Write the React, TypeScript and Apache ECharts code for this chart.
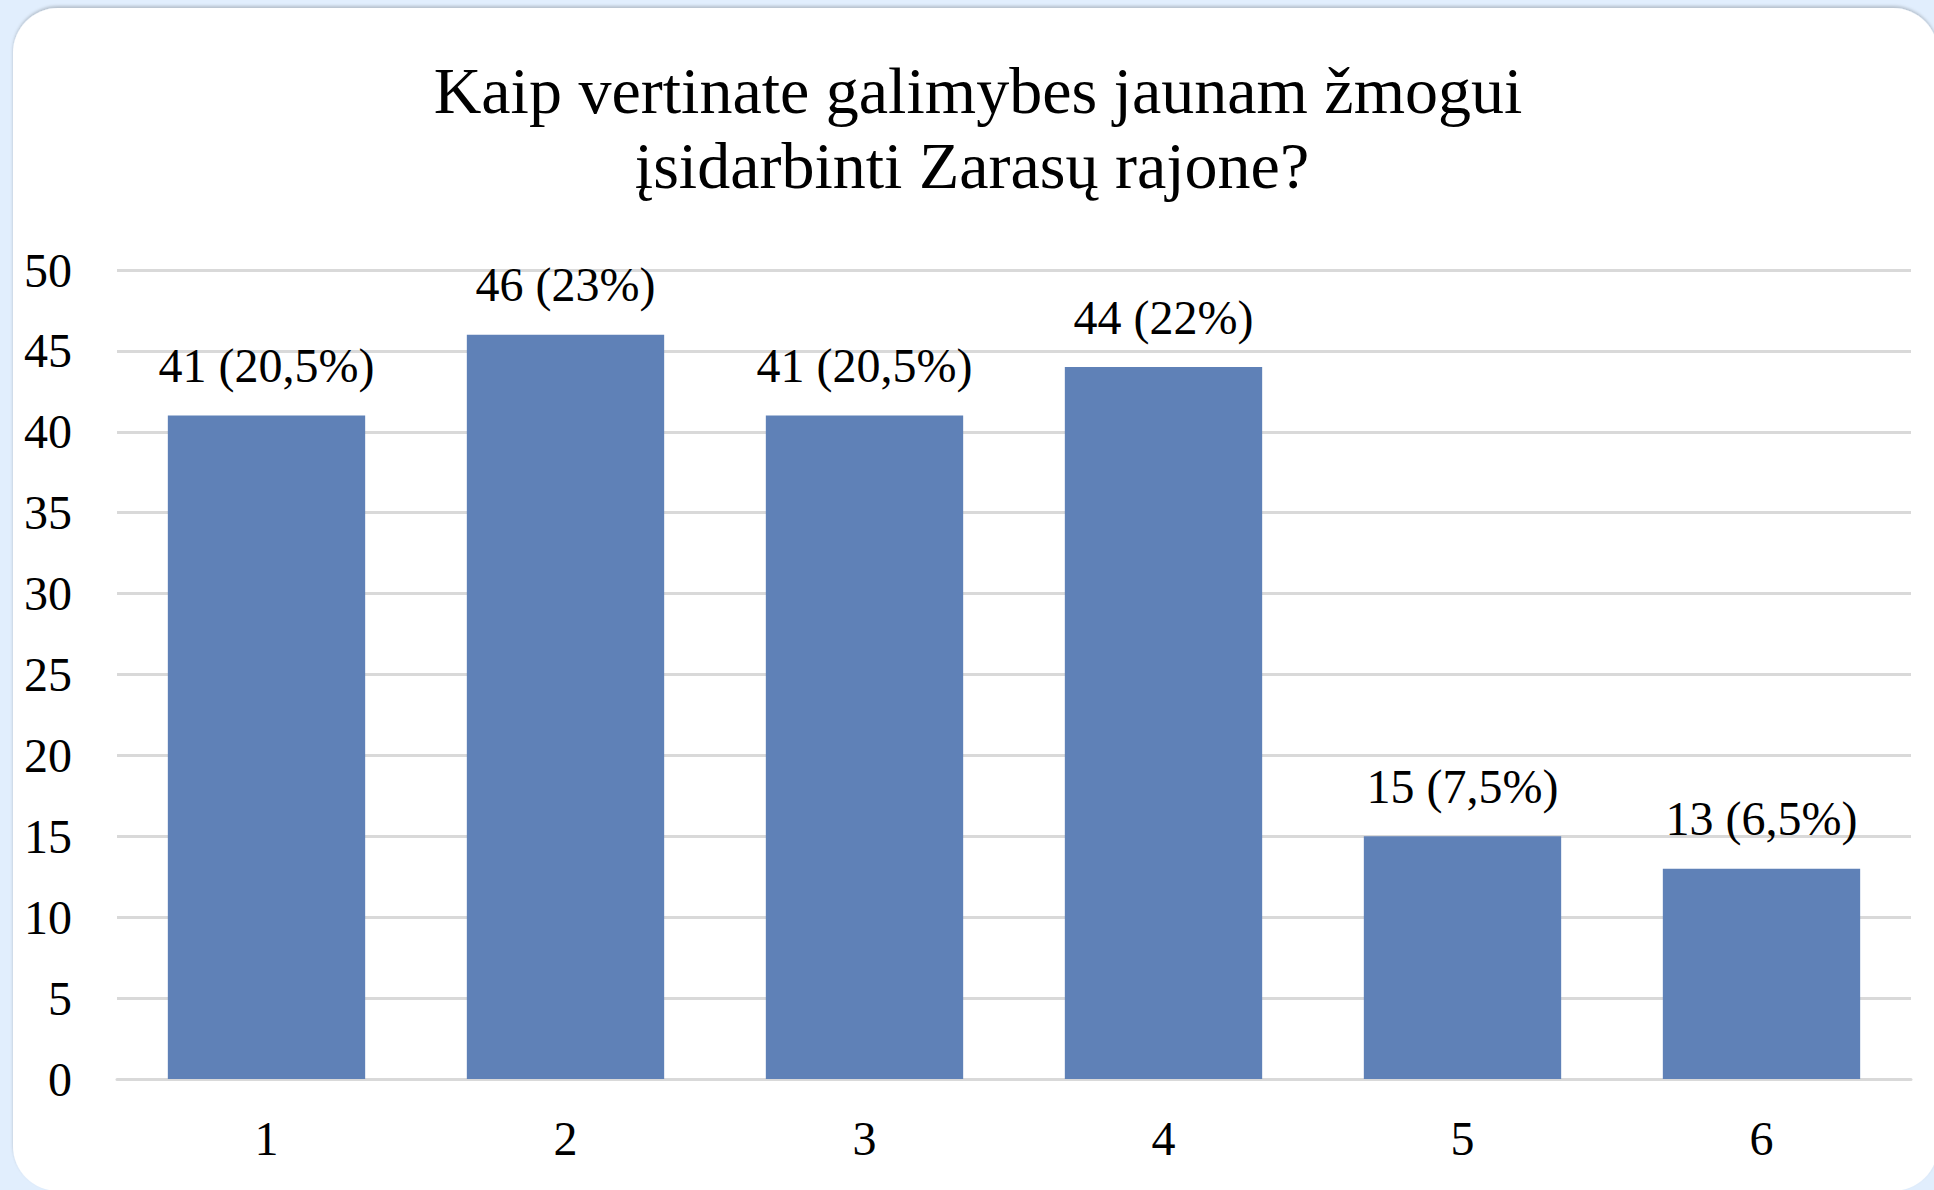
import React, { useEffect, useRef } from "react";
import * as echarts from "echarts";

const titleLines = ["Kaip vertinate galimybes jaunam žmogui", "įsidarbinti Zarasų rajone?"];
const categories = ["1", "2", "3", "4", "5", "6"];
const counts = [41, 46, 41, 44, 15, 13];
const percents = ["20,5%", "23%", "20,5%", "22%", "7,5%", "6,5%"];
const yTicks = { min: 0, max: 50, interval: 5 };

const FONT = "Liberation Serif";

export default function App() {
  const ref = useRef<HTMLDivElement>(null);
  useEffect(() => {
    document.body.style.margin = "0";
    const chart = echarts.init(ref.current!, null, { renderer: "svg" });
    chart.setOption({
      animation: false,
      backgroundColor: "#e1eefd",
      graphic: [
        {
          type: "rect",
          z: -10,
          shape: { x: 13, y: 8, width: 1925, height: 1183, r: 45 },
          style: {
            fill: "#ffffff",
            shadowColor: "rgba(0,0,0,0.2)",
            shadowBlur: 3,
            shadowOffsetY: -2,
          },
        },
        {
          type: "text",
          x: 978,
          y: 90,
          style: {
            text: titleLines[0],
            fontSize: 66,
            fontFamily: FONT,
            fill: "#000",
            textAlign: "center",
            textVerticalAlign: "middle",
          },
        },
        {
          type: "text",
          x: 972,
          y: 165,
          style: {
            text: titleLines[1],
            fontSize: 66,
            fontFamily: FONT,
            fill: "#000",
            textAlign: "center",
            textVerticalAlign: "middle",
          },
        },
      ],
      grid: { left: 117, right: 23, top: 270, bottom: 111, containLabel: false },
      xAxis: {
        type: "category",
        data: categories,
        axisLine: { show: true, lineStyle: { color: "#d9d9d9", width: 3 } },
        axisTick: { show: false },
        axisLabel: { fontSize: 48, fontFamily: FONT, color: "#000", margin: 35 },
      },
      yAxis: {
        type: "value",
        min: yTicks.min,
        max: yTicks.max,
        interval: yTicks.interval,
        axisLine: { show: false },
        axisTick: { show: false },
        splitLine: { lineStyle: { color: "#d9d9d9", width: 3 } },
        axisLabel: { fontSize: 48, fontFamily: FONT, color: "#000", margin: 45 },
      },
      series: [
        {
          type: "bar",
          data: counts,
          barWidth: "66%",
          itemStyle: { color: "#5f81b7" },
          label: {
            show: true,
            position: "top",
            distance: 26,
            fontSize: 48,
            fontFamily: FONT,
            color: "#000",
            formatter: (p: any) => `${counts[p.dataIndex]} (${percents[p.dataIndex]})`,
          },
        },
      ],
    });
    return () => chart.dispose();
  }, []);
  return (
    <div
      ref={ref}
      style={{ position: "absolute", left: 0, top: 0, width: 1934, height: 1190 }}
    />
  );
}
